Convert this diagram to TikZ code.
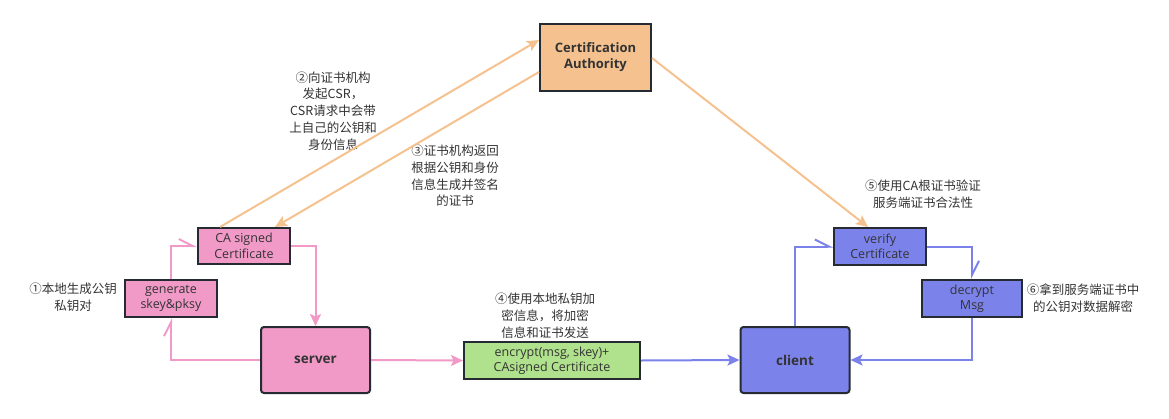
\documentclass[tikz,border=0pt]{standalone}
\usepackage{fontspec}
\setmainfont{Open Sans}
\newfontfamily\cjk{Noto Sans CJK SC}
\usetikzlibrary{arrows.meta}
\definecolor{caorange}{HTML}{F5C28F}
\definecolor{srvpink}{HTML}{F19AC8}
\definecolor{clblue}{HTML}{7B83EB}
\definecolor{msggreen}{HTML}{B0E18C}
\definecolor{edgedark}{HTML}{262B33}
\definecolor{labelgray}{HTML}{333333}
\begin{document}
\begin{tikzpicture}[x=1pt, y=-1pt]
    % Define styles
    \tikzset{
        stepbox/.style={
            draw=edgedark,
            line width=2pt,
            inner sep=0pt,
            align=center,
            font=\fontsize{12.5}{15.5}\selectfont,
            text=labelgray
        },
        party/.style={
            stepbox,
            rounded corners=3pt,
            minimum width=109pt,
            minimum height=66pt,
            font=\fontsize{13.5}{16}\selectfont\bfseries
        },
        note/.style={
            align=center,
            inner sep=0pt,
            text=labelgray,
            font=\cjk\fontsize{12.5}{16.8}\selectfont
        },
        link/.style={
            line width=2pt,
            -{Stealth[length=12pt,width=11pt,inset=2.5pt]}
        },
        back/.style={
            line width=2pt,
            -{Straight Barb[harpoon,length=14pt,width=14pt]}
        }
    }
    \useasboundingbox (0,0) rectangle (1169,418);

    % Certification authority
    \node[stepbox, fill=caorange, minimum width=111pt, minimum height=67pt,
          font=\fontsize{13}{16}\selectfont\bfseries] (ca) at (595.5,57.5) {Certification\\Authority};

    % Server side
    \node[stepbox, fill=srvpink, minimum width=92pt, minimum height=36pt] (casigned) at (244,246) {CA signed\\Certificate};
    \node[stepbox, fill=srvpink, minimum width=92pt, minimum height=37pt] (generate) at (171,298.5) {generate\\skey\&pksy};
    \node[party, fill=srvpink] (server) at (315.5,360) {server};

    % Message
    \node[stepbox, fill=msggreen, minimum width=176pt, minimum height=37pt] (encrypt) at (552,360.5) {encrypt(msg, skey)+\\CAsigned Certificate};

    % Client side
    \node[party, fill=clblue] (client) at (795,360) {client};
    \node[stepbox, fill=clblue, minimum width=92pt, minimum height=37pt] (verify) at (880,246.5) {verify\\Certificate};
    \node[stepbox, fill=clblue, minimum width=100pt, minimum height=37pt] (decrypt) at (972,298.5) {decrypt\\Msg};

    % Notes
    \node[note] (n1) at (73,297) {①本地生成公钥\\私钥对};
    \node[note] (n2) at (333,111) {②向证书机构\\发起CSR，\\CSR请求中会带\\上自己的公钥和\\身份信息};
    \node[note] (n3) at (455,176) {③证书机构返回\\根据公钥和身份\\信息生成并签名\\的证书};
    \node[note] (n4) at (545,316) {④使用本地私钥加\\密信息，将加密\\信息和证书发送};
    \node[note] (n5) at (923,194) {⑤使用CA根证书验证\\服务端证书合法性};
    \node[note] (n6) at (1083,298) {⑥拿到服务端证书中\\的公钥对数据解密};

    % Certificate requests
    \draw[link, caorange] ([xshift=-24pt]casigned.north) -- ([yshift=17.5pt]ca.west);
    \draw[link, caorange] ([yshift=-14.5pt]ca.west) -- ([xshift=31pt]casigned.north);
    \draw[link, caorange] ([yshift=-0.5pt]ca.east) -- ([xshift=-12pt]verify.north);

    % Server loop
    \draw[link, srvpink] (casigned.east) -| (server.north);
    \draw[back, srvpink] (server.west) -| (generate.south);
    \draw[back, srvpink] (generate.north) |- (casigned.west);
    \draw[link, srvpink] (server.east) -- (encrypt.west);

    % Client loop
    \draw[link, clblue] (encrypt.east) -- (client.west);
    \draw[back, clblue] (client.north) |- (verify.west);
    \draw[back, clblue] (verify.east) -| (decrypt.north);
    \draw[link, clblue] (decrypt.south) |- (client.east);
\end{tikzpicture}
\end{document}
